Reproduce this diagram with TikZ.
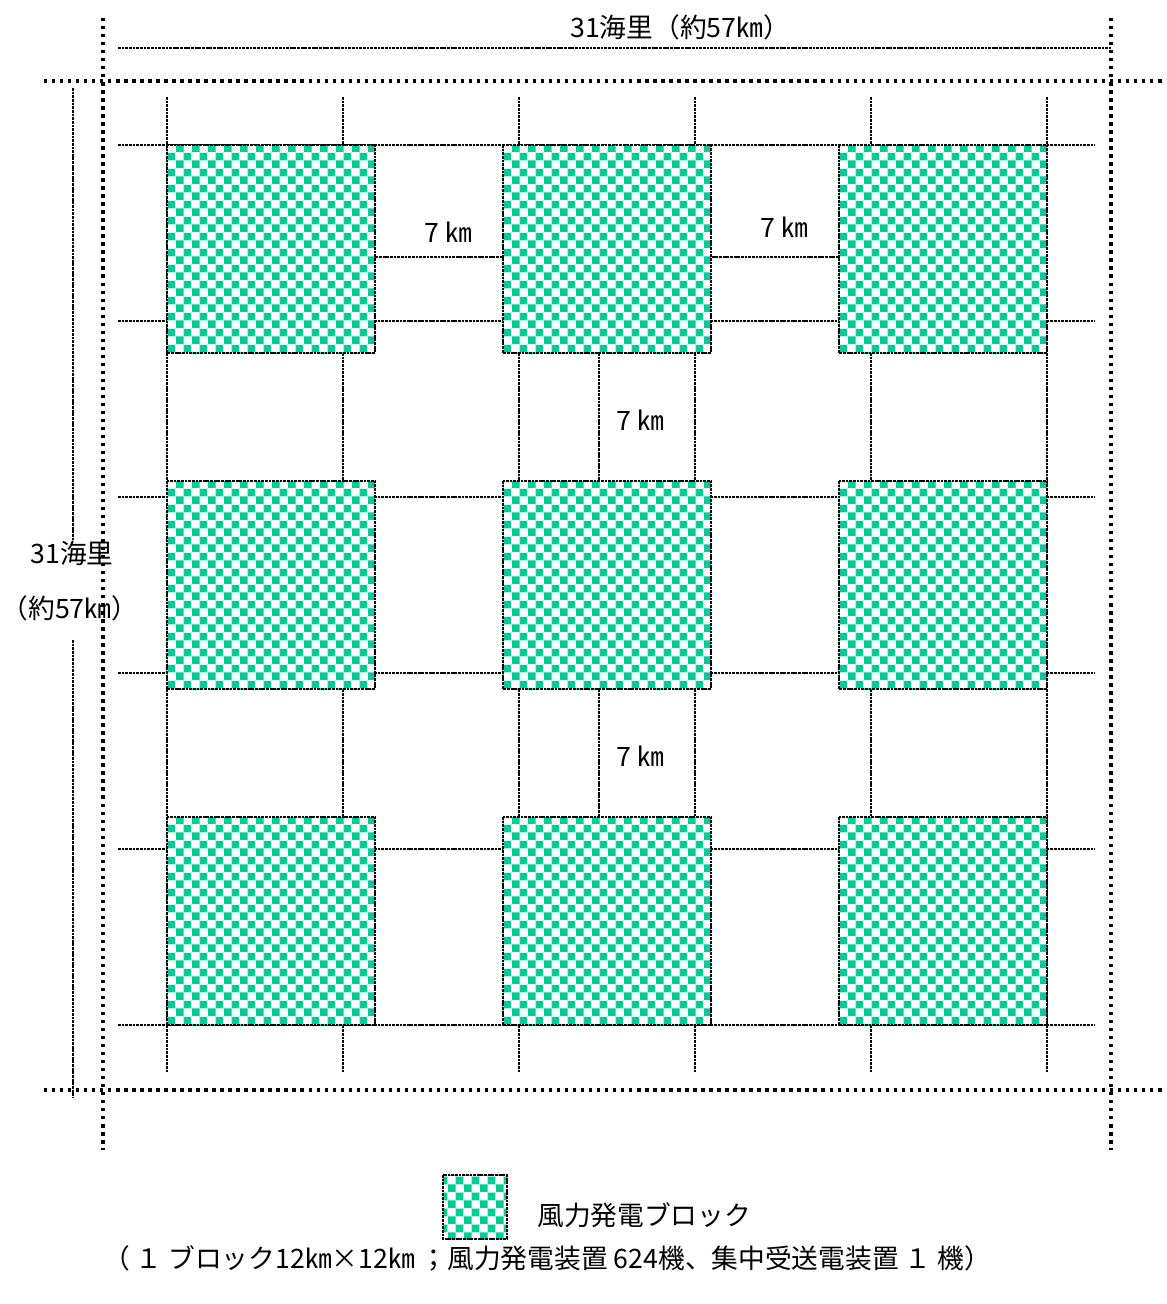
\documentclass[tikz,border=0pt]{standalone}
\usepackage{fontspec}
\setmainfont{Noto Sans CJK JP}
\usepackage{tikz}
\usetikzlibrary{patterns.meta, positioning}
\usepackage{xcolor}
\definecolor{windgreen}{RGB}{0, 204, 150}
\tikzdeclarepattern{
  name=windcheck,
  type=uncolored,
  bounding box={(0cm,0cm) and (0.4cm,0.4cm)},
  tile size={(0.4cm,0.4cm)},
  code={
    \fill (0cm,0cm) rectangle (0.2cm,0.2cm);
    \fill (0.2cm,0.2cm) rectangle (0.4cm,0.4cm);
  }
}
\tikzset{
  gridln/.style  = {black, line width=0.8pt, dash pattern=on 2pt off 0.6pt},
  dimln/.style   = {black, line width=0.8pt, dash pattern=on 2pt off 0.6pt},
  dotbd/.style   = {black, line width=2.4pt, dash pattern=on 2.4pt off 3.3pt},
  blk/.style     = {preaction={fill=white}, pattern=windcheck, pattern color=windgreen,
                    draw=black, line width=0.8pt, dash pattern=on 2pt off 0.6pt},
  lbl/.style     = {inner sep=0pt, font=\fontsize{19pt}{23pt}\selectfont},
}

\begin{document}
\begin{tikzpicture}[x=0.025cm, y=-0.025cm]
  % 画像と同じ外枠
  \useasboundingbox (0,0) rectangle (1166,1304);

  % 格子線
  \foreach \p in {167,343,...,1047}
    \draw[gridln] (\p,97) -- (\p,1072);
  \foreach \q in {145,321,...,1025}
    \draw[gridln] (118,\q) -- (1095,\q);
  \draw[gridln] (599,353) -- (599,817);
  \draw[gridln] (167,257) -- (1047,257);

  % 風力発電ブロック
  \foreach \cx in {167,503,839}
    \foreach \cy in {145,481,817}
      \draw[blk] (\cx,\cy) rectangle ++(208,208);

  \draw[dotbd] (103,18) -- (103,1150);
  \draw[dotbd] (1111,18) -- (1111,1150);
  \draw[dotbd] (44,81) -- (1166,81);
  \draw[dotbd] (44,1090) -- (1166,1090);

  \draw[dimln] (118,48) -- (1111,48);
  \draw[dimln] (73,88) -- (73,540);
  \draw[dimln] (73,640) -- (73,1098);

  \node[lbl] (topdim) at (680,27) {31海里（約57㎞）};
  \node[lbl] (sidedimA) at (72,553) {31海里};
  \node[lbl] (sidedimB) at (70,608) {（約57㎞）};

  \node[lbl] (kmA) at (448,232) {7 ㎞};
  \node[lbl] (kmB) at (784,227) {7 ㎞};
  \node[lbl] (kmC) at (640,420) {7 ㎞};
  \node[lbl] (kmD) at (640,756) {7 ㎞};

  \draw[blk] (443,1175) rectangle (507,1239);
  \node[lbl, anchor=west] (legtext) at (537,1215) {風力発電ブロック};
  \node[lbl] (legnote) at (547,1258) {（ １ ブロック12㎞×12㎞ ；風力発電装置 624機、集中受送電装置 １ 機）};
\end{tikzpicture}
\end{document}
